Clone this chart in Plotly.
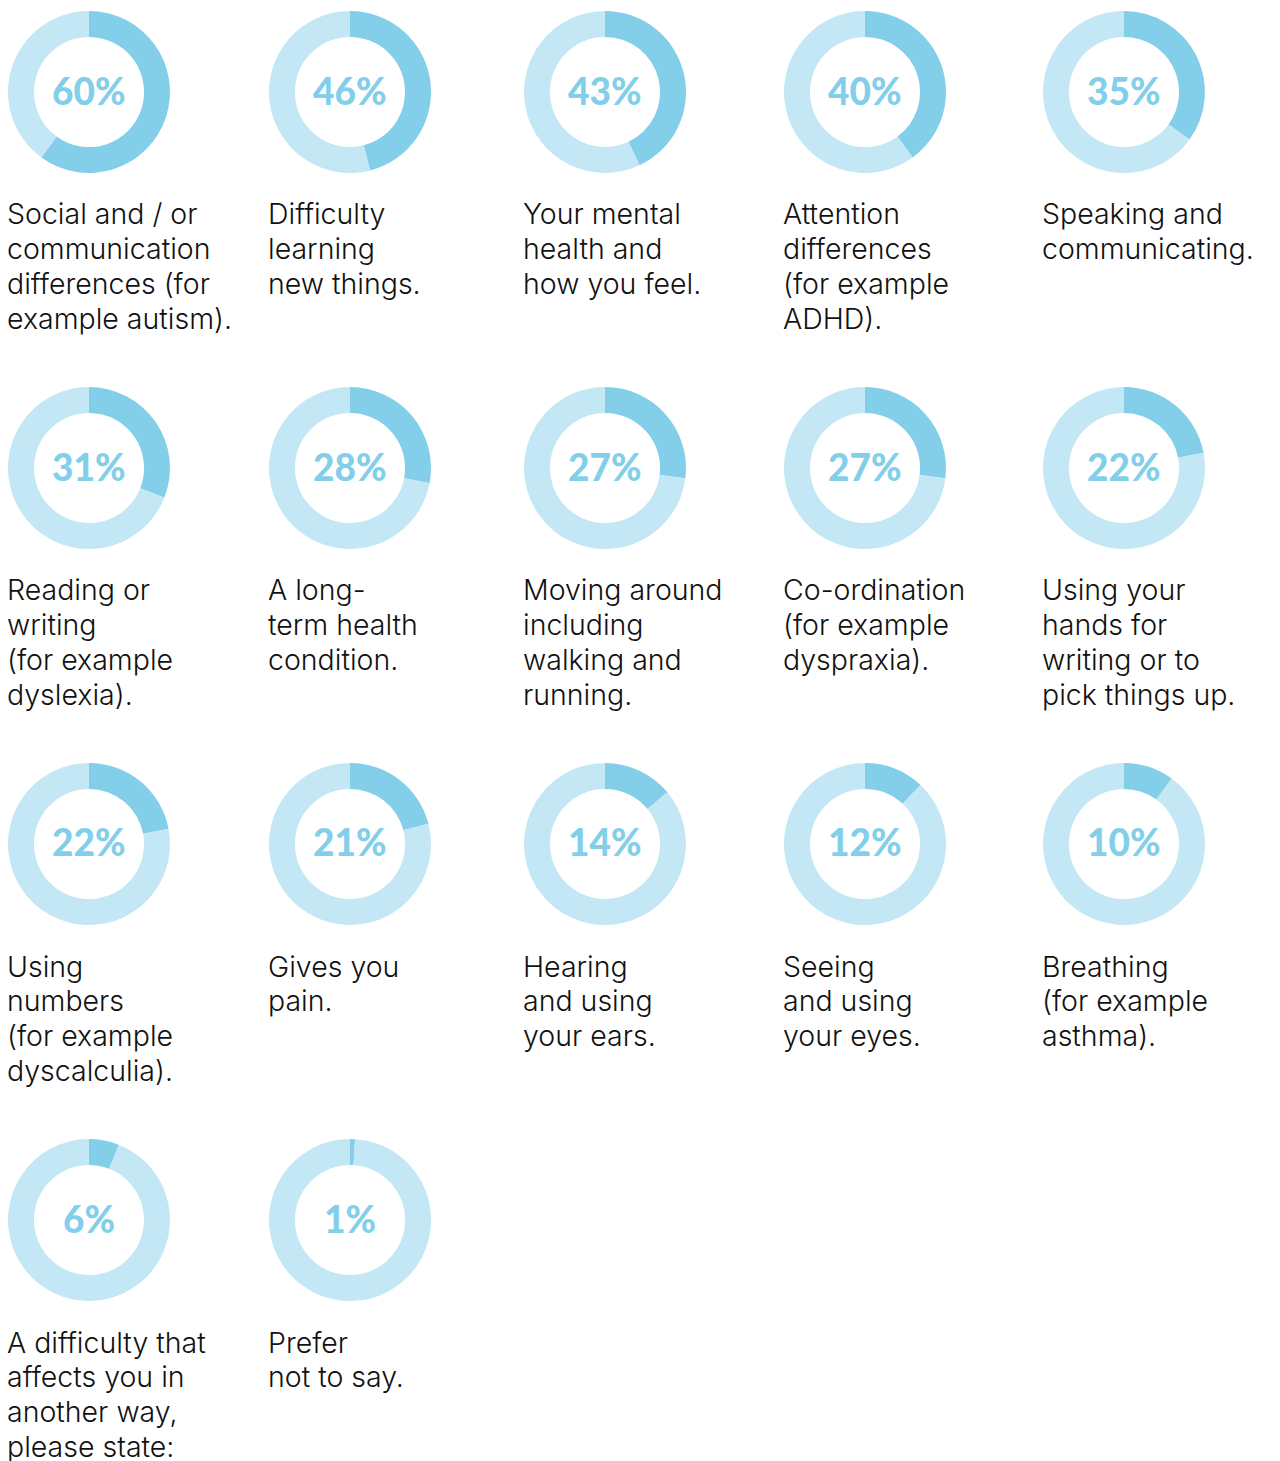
import plotly.graph_objects as go

# Share of respondents for each type of difficulty
categories = [
    "Social and / or\ncommunication\ndifferences (for\nexample autism).",
    "Difficulty\nlearning\nnew things.",
    "Your mental\nhealth and\nhow you feel.",
    "Attention\ndifferences\n(for example\nADHD).",
    "Speaking and\ncommunicating.",
    "Reading or\nwriting\n(for example\ndyslexia).",
    "A long-\nterm health\ncondition.",
    "Moving around\nincluding\nwalking and\nrunning.",
    "Co-ordination\n(for example\ndyspraxia).",
    "Using your\nhands for\nwriting or to\npick things up.",
    "Using\nnumbers\n(for example\ndyscalculia).",
    "Gives you\npain.",
    "Hearing\nand using\nyour ears.",
    "Seeing\nand using\nyour eyes.",
    "Breathing\n(for example\nasthma).",
    "A difficulty that\naffects you in\nanother way,\nplease state:",
    "Prefer\nnot to say.",
]
percentages = [60, 46, 43, 40, 35, 31, 28, 27, 27, 22, 22, 21, 14, 12, 10, 6, 1]

W, H = 1280, 1461
COL_X = [89, 350, 605, 865, 1124]
ROW_Y = [92, 468, 844, 1220]
R = 81
DARK = "#83CFEA"
LIGHT = "#C3E7F4"


def px_x(x):
    return x / W


def px_y(y):
    return 1 - y / H


fig = go.Figure()
annotations = []
for i, (label, pct) in enumerate(zip(categories, percentages)):
    cx = COL_X[i % 5]
    cy = ROW_Y[i // 5]
    fig.add_trace(go.Pie(
        values=[pct, 100 - pct],
        labels=["yes", "no"],
        marker=dict(colors=[DARK, LIGHT], line=dict(width=0)),
        hole=0.68,
        sort=False,
        direction="clockwise",
        rotation=0,
        textinfo="none",
        hoverinfo="skip",
        showlegend=False,
        domain=dict(x=[px_x(cx - R), px_x(cx + R)],
                    y=[px_y(cy + R), px_y(cy - R)]),
    ))
    annotations.append(dict(
        x=px_x(cx), y=px_y(cy - 2), xref="paper", yref="paper",
        text=f"{pct}%", showarrow=False,
        xanchor="center", yanchor="middle",
        font=dict(family="Lato", size=37, color=DARK, weight=900),
    ))
    for j, line in enumerate(label.split("\n")):
        annotations.append(dict(
            x=px_x(cx - R - 2), y=px_y(cy + 122 + 34.7 * j),
            xref="paper", yref="paper",
            text=line, showarrow=False, borderpad=0,
            xanchor="left", yanchor="middle",
            font=dict(family="Inter", size=28.5, color="#111111", weight=300),
        ))

fig.update_layout(
    width=W, height=H,
    margin=dict(l=0, r=0, t=0, b=0),
    paper_bgcolor="white", plot_bgcolor="white",
    annotations=annotations,
)

fig.write_html("out.html")
